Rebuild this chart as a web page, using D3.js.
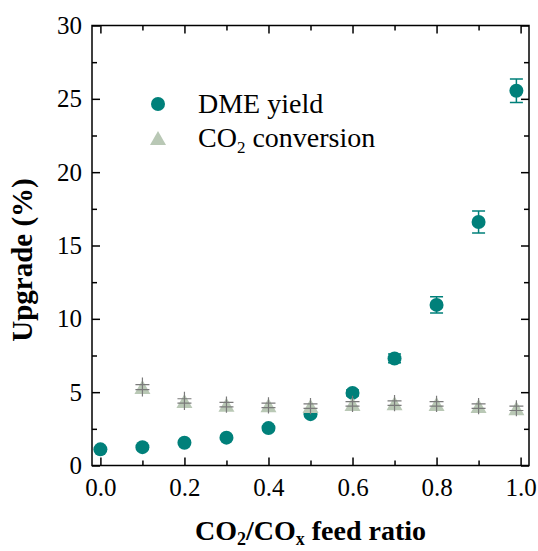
<!DOCTYPE html>
<html>
<head>
<meta charset="utf-8">
<script src="https://cdn.jsdelivr.net/npm/d3@7"></script>
<style>
  body { margin: 0; background: white; }
  svg text { font-family: "Liberation Serif", "Times New Roman", Times, serif; }
</style>
</head>
<body>
<div class="chart"></div>
<script>
// data
const dmeX = [0, 0.1, 0.2, 0.3, 0.4, 0.5, 0.6, 0.7, 0.8, 0.9, 0.99];
const dmeYield = [1.1, 1.25, 1.55, 1.9, 2.55, 3.5, 4.95, 7.3, 10.95, 16.6, 25.55];
const dmeErr = [0.1, 0.1, 0.1, 0.1, 0.12, 0.15, 0.2, 0.3, 0.55, 0.75, 0.8];

const co2X = [0.1, 0.2, 0.3, 0.4, 0.5, 0.6, 0.7, 0.8, 0.9, 0.99];
const co2Conv = [5.35, 4.4, 4.15, 4.1, 4.05, 4.2, 4.25, 4.2, 4.05, 3.9];
const co2Err = [0.17, 0.15, 0.15, 0.15, 0.15, 0.15, 0.15, 0.15, 0.15, 0.15];
const co2Range = [0.65, 0.62, 0.55, 0.55, 0.55, 0.55, 0.55, 0.55, 0.55, 0.55];

const xTicks = [0, 0.2, 0.4, 0.6, 0.8, 1.0];
const xMinor = [0.1, 0.3, 0.5, 0.7, 0.9];
const yTicks = [0, 5, 10, 15, 20, 25, 30];
const yMinor = [2.5, 7.5, 12.5, 17.5, 22.5, 27.5];

const w = 538, h = 551;
const mLeft = 92, mRight = 529, mTop = 25.5, mBottom = 465.5;
const teal = "#00807a";
const sage = "#b9c8b5";
const gray = "#7a7a7a";
const serif = '"Liberation Serif", "Times New Roman", Times, serif';

const svg = d3.select(".chart").append("svg")
  .attr("width", w).attr("height", h)
  .attr("font-family", serif)
  .style("background-color", "white");

const x = d3.scaleLinear().domain([-0.02, 1.02]).range([mLeft, mRight]);
const y = d3.scaleLinear().domain([0, 30]).range([mBottom, mTop]);

// axes - ticks pointing inward on all four sides
const major = 8, minor = 5;
svg.append("g").attr("transform", `translate(0,${mBottom})`)
  .call(d3.axisBottom(x).tickValues(xTicks).tickSize(-major).tickFormat(d3.format(".1f")).tickPadding(13))
  .call(g => g.selectAll("text").attr("font-size", 25).attr("fill", "#000"));
svg.append("g").attr("transform", `translate(0,${mBottom})`)
  .call(d3.axisBottom(x).tickValues(xMinor).tickSize(-minor).tickFormat(""));
svg.append("g").attr("transform", `translate(0,${mTop})`)
  .call(d3.axisTop(x).tickValues(xTicks).tickSize(-major).tickFormat(""));
svg.append("g").attr("transform", `translate(0,${mTop})`)
  .call(d3.axisTop(x).tickValues(xMinor).tickSize(-minor).tickFormat(""));

svg.append("g").attr("transform", `translate(${mLeft},0)`)
  .call(d3.axisLeft(y).tickValues(yTicks).tickSize(-major).tickPadding(10))
  .call(g => g.selectAll("text").attr("font-size", 25).attr("fill", "#000"));
svg.append("g").attr("transform", `translate(${mLeft},0)`)
  .call(d3.axisLeft(y).tickValues(yMinor).tickSize(-minor).tickFormat(""));
svg.append("g").attr("transform", `translate(${mRight},0)`)
  .call(d3.axisRight(y).tickValues(yTicks).tickSize(-major).tickFormat(""));
svg.append("g").attr("transform", `translate(${mRight},0)`)
  .call(d3.axisRight(y).tickValues(yMinor).tickSize(-minor).tickFormat(""));

svg.selectAll("g").attr("font-family", serif);
svg.selectAll(".domain").remove();
svg.selectAll(".tick line").attr("stroke", "#000").attr("stroke-width", 1.5);

svg.append("rect")
  .attr("x", mLeft).attr("y", mTop)
  .attr("width", mRight - mLeft).attr("height", mBottom - mTop)
  .attr("fill", "none").attr("stroke", "#000").attr("stroke-width", 1.5);

// DME yield: error bars + circles
const dme = dmeX.map((d, i) => ({x: d, v: dmeYield[i], e: dmeErr[i]}));
const dg = svg.append("g");
dg.selectAll("path.err").data(dme).enter().append("path")
  .attr("d", d => {
    const cx = x(d.x), y1 = y(d.v + d.e), y2 = y(d.v - d.e);
    return `M${cx - 6.5},${y1}H${cx + 6.5}M${cx},${y1}V${y2}M${cx - 6.5},${y2}H${cx + 6.5}`;
  })
  .attr("stroke", teal).attr("stroke-width", 1.5).attr("fill", "none");
dg.selectAll("circle").data(dme).enter().append("circle")
  .attr("cx", d => x(d.x)).attr("cy", d => y(d.v)).attr("r", 7)
  .attr("fill", teal);

// CO2 conversion: triangles with gray error bars on top
const tri = "M0,-7L8,7L-8,7Z";
const co2 = co2X.map((d, i) => ({x: d, v: co2Conv[i], e: co2Err[i], r: co2Range[i]}));
const cg = svg.append("g");
cg.selectAll("path.tri").data(co2).enter().append("path")
  .attr("d", tri)
  .attr("transform", d => `translate(${x(d.x)},${y(d.v)})`)
  .attr("fill", sage);
cg.selectAll("path.err").data(co2).enter().append("path")
  .attr("d", d => {
    const cx = x(d.x);
    const c1 = y(d.v + d.e), c2 = y(d.v - d.e);
    return `M${cx},${y(d.v + d.r)}V${y(d.v - d.r)}M${cx - 7},${c1}H${cx + 7}M${cx - 7},${c2}H${cx + 7}`;
  })
  .attr("stroke", gray).attr("stroke-width", 1.2).attr("fill", "none");

// legend
const lg = svg.append("g");
lg.append("circle").attr("cx", 158).attr("cy", 104).attr("r", 7).attr("fill", teal);
lg.append("path").attr("d", tri).attr("transform", "translate(158,138)").attr("fill", sage);
lg.append("text").attr("x", 198).attr("y", 113).attr("font-size", 28).text("DME yield");
const t2 = lg.append("text").attr("x", 198).attr("y", 147).attr("font-size", 28);
t2.append("tspan").text("CO");
t2.append("tspan").attr("font-size", 17).attr("dy", 6).text("2");
t2.append("tspan").attr("dy", -6).text(" conversion");

// axis titles
const xt = svg.append("text").attr("x", (mLeft + mRight) / 2).attr("y", 540)
  .attr("text-anchor", "middle").attr("font-size", 28).attr("font-weight", "bold");
xt.append("tspan").text("CO");
xt.append("tspan").attr("font-size", 18).attr("dy", 5).text("2");
xt.append("tspan").attr("dy", -5).text("/CO");
xt.append("tspan").attr("font-size", 18).attr("dy", 5).text("x");
xt.append("tspan").attr("dy", -5).text(" feed ratio");

svg.append("text")
  .attr("transform", "translate(32,260) rotate(-90)")
  .attr("text-anchor", "middle").attr("font-size", 29).attr("font-weight", "bold")
  .text("Upgrade (%)");
</script>
</body>
</html>
